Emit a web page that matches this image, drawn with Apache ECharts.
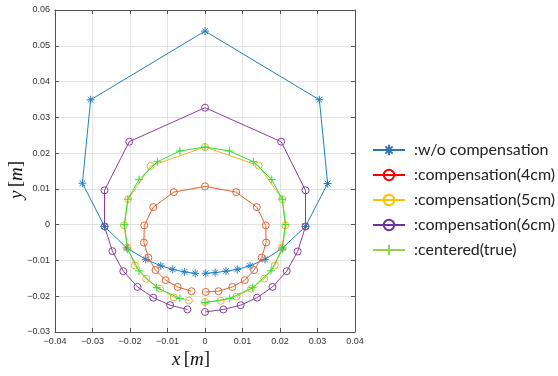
<!DOCTYPE html>
<html><head><meta charset="utf-8">
<script src="https://cdn.jsdelivr.net/npm/echarts@6/dist/echarts.min.js"></script>
<style>html,body{margin:0;padding:0;background:#fff}#c{width:558px;height:376px}</style>
</head><body><div id="c"></div>
<script>
// ---- data ----
const xRange = [-0.04, 0.04];
const yRange = [-0.03, 0.06];
const tickStep = 0.01;

const legendNames = [':w/o compensation', ':compensation(4cm)', ':compensation(5cm)', ':compensation(6cm)', ':centered(true)'];

const woCompensation = [
  [0.0002,-0.0136],[0.0027,-0.0134],[0.0056,-0.0130],[0.0086,-0.0125],[0.0120,-0.0115],[0.0160,-0.0097],
  [0.0207,-0.0065],[0.0268,-0.0005],[0.0327,0.0115],[0.0305,0.0349],[0.0000,0.0541],[-0.0305,0.0349],
  [-0.0327,0.0116],[-0.0268,-0.0005],[-0.0209,-0.0065],[-0.0158,-0.0097],[-0.0118,-0.0115],[-0.0086,-0.0125],
  [-0.0055,-0.0132],[-0.0026,-0.0136]
];
const comp4cm = [
  [0.0002,-0.0188],[0.0036,-0.0186],[0.0073,-0.0174],[0.0106,-0.0155],[0.0131,-0.0127],[0.0151,-0.0092],
  [0.0163,-0.0050],[0.0162,-0.0002],[0.0138,0.0049],[0.0083,0.0091],[0.0000,0.0107],[-0.0083,0.0091],
  [-0.0138,0.0049],[-0.0162,-0.0002],[-0.0163,-0.0050],[-0.0151,-0.0092],[-0.0132,-0.0127],[-0.0105,-0.0155],
  [-0.0073,-0.0174],[-0.0036,-0.0186]
];
const comp5cm = [
  [0.0000,-0.0216],[0.0042,-0.0213],[0.0084,-0.0201],[0.0123,-0.0179],[0.0158,-0.0151],[0.0186,-0.0114],
  [0.0205,-0.0064],[0.0214,-0.0002],[0.0206,0.0071],[0.0143,0.0165],[0.0000,0.0217],[-0.0145,0.0164],
  [-0.0205,0.0071],[-0.0216,-0.0002],[-0.0207,-0.0064],[-0.0187,-0.0114],[-0.0157,-0.0151],[-0.0120,-0.0179],
  [-0.0083,-0.0203],[-0.0043,-0.0212]
];
const comp6cm = [
  [0.0000,-0.0244],[0.0049,-0.0237],[0.0095,-0.0225],[0.0139,-0.0204],[0.0180,-0.0174],[0.0218,-0.0130],
  [0.0247,-0.0075],[0.0268,-0.0005],[0.0268,0.0096],[0.0203,0.0232],[0.0000,0.0327],[-0.0202,0.0232],
  [-0.0268,0.0096],[-0.0268,-0.0005],[-0.0247,-0.0074],[-0.0218,-0.0130],[-0.0180,-0.0174],[-0.0138,-0.0204],
  [-0.0093,-0.0225],[-0.0047,-0.0237]
];
const centeredTrue = [
  [0.0000,-0.0218],[0.0066,-0.0206],[0.0127,-0.0176],[0.0176,-0.0129],[0.0206,-0.0069],[0.0215,0.0000],
  [0.0206,0.0071],[0.0178,0.0126],[0.0129,0.0176],[0.0065,0.0206],[0.0000,0.0217],[-0.0067,0.0206],
  [-0.0127,0.0176],[-0.0176,0.0126],[-0.0206,0.0071],[-0.0215,0.0000],[-0.0206,-0.0069],[-0.0176,-0.0129],
  [-0.0129,-0.0176],[-0.0067,-0.0206]
];

// ---- styling ----
const plotColors = ['#1f7fc6', '#de6530', '#f0b233', '#8a3f9c', '#2ee22e'];
const legendColors = ['#2e75b6', '#ff0000', '#ffc000', '#7030a0', '#92d050'];
const STAR = 'path://M0,-10L0,10M-10,0L10,0M-7,-7L7,7M-7,7L7,-7';
const PLUS = 'path://M0,-10L0,10M-10,0L10,0';
const symbols = [STAR, 'circle', 'circle', 'circle', PLUS];
const sizes = [8, 7, 7, 7, 8];
const datasets = [woCompensation, comp4cm, comp5cm, comp6cm, centeredTrue];

const fmt = v => {
  const r = Math.round(v * 100) / 100;
  if (r === 0) return '0';
  return (r < 0 ? '\u2212' : '') + Math.abs(r).toFixed(2);
};

const series = [];
datasets.forEach((d, i) => {
  series.push({
    name: 'd' + i, type: 'line', data: d, symbol: symbols[i], symbolSize: sizes[i],
    showSymbol: true, clip: false, animation: false, silent: true, z: 2 + i,
    lineStyle: { color: plotColors[i], width: 1 },
    itemStyle: { color: 'rgba(0,0,0,0)', borderColor: plotColors[i], borderWidth: 1 }
  });
});
legendNames.forEach((n, i) => {
  series.push({
    name: n, type: 'line', data: [], symbol: symbols[i], symbolSize: 10,
    lineStyle: { color: legendColors[i], width: 2 },
    itemStyle: { color: 'rgba(0,0,0,0)', borderColor: legendColors[i], borderWidth: 2 }
  });
});

const axisCommon = {
  type: 'value', interval: tickStep,
  axisLine: { show: true, onZero: false, lineStyle: { color: '#555', width: 1 } },
  axisTick: { show: true, inside: true, length: 4, lineStyle: { color: '#555' } },
  splitLine: { show: false }
};

const chart = echarts.init(document.getElementById('c'), null, { renderer: 'canvas' });
chart.setOption({
  animation: false,
  backgroundColor: '#fff',
  grid: { left: 55, right: 203, top: 10, bottom: 44 },
  xAxis: [
    Object.assign({}, axisCommon, { position: 'bottom', min: xRange[0], max: xRange[1],
      splitLine: { show: true, lineStyle: { color: '#e3e3e3', width: 1 } },
      axisLabel: { formatter: fmt, fontSize: 9, color: '#333', margin: 5, fontFamily: 'Liberation Sans' } }),
    Object.assign({}, axisCommon, { position: 'top', min: xRange[0], max: xRange[1], axisLabel: { show: false } })
  ],
  yAxis: [
    Object.assign({}, axisCommon, { position: 'left', min: yRange[0], max: yRange[1],
      splitLine: { show: true, lineStyle: { color: '#e3e3e3', width: 1 } },
      axisLabel: { formatter: fmt, fontSize: 9, color: '#333', margin: 5, fontFamily: 'Liberation Sans' } }),
    Object.assign({}, axisCommon, { position: 'right', min: yRange[0], max: yRange[1], axisLabel: { show: false } })
  ],
  legend: {
    data: legendNames, orient: 'vertical', left: 372, top: 142, padding: 0,
    itemWidth: 32, itemHeight: 13, itemGap: 9, selectedMode: false,
    textStyle: { fontFamily: 'Lato', fontSize: 16, lineHeight: 14, color: '#222', padding: [0, 0, 0, 4] }
  },
  graphic: [
    { type: 'text', left: 172, top: 350,
      style: { text: '{i|x} {n|[}{i|m}{n|]}', rich: {
        i: { fontFamily: 'Liberation Serif', fontStyle: 'italic', fontSize: 19, fill: '#111' },
        n: { fontFamily: 'Liberation Serif', fontSize: 19, fill: '#111' } } } },
    { type: 'text', x: 7, y: 199, rotation: Math.PI / 2,
      style: { text: '{i|y} {n|[}{i|m}{n|]}', rich: {
        i: { fontFamily: 'Liberation Serif', fontStyle: 'italic', fontSize: 19, fill: '#111' },
        n: { fontFamily: 'Liberation Serif', fontSize: 19, fill: '#111' } } } }
  ],
  series: series
});
</script></body></html>
